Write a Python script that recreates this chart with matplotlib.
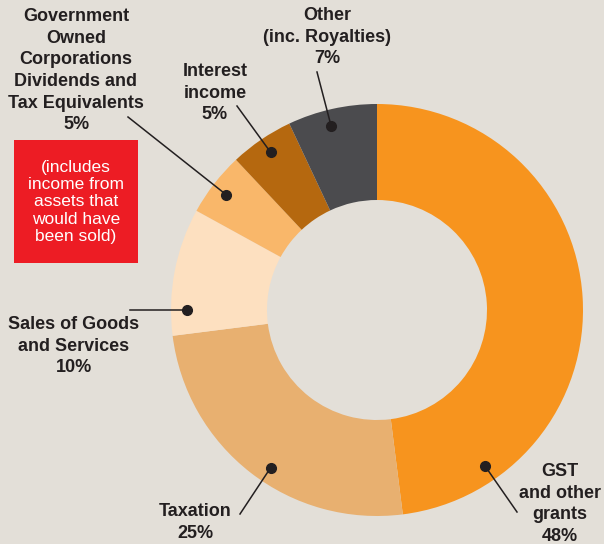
import matplotlib
matplotlib.use("Agg")
import matplotlib.pyplot as plt
import numpy as np

categories = ["GST\nand other\ngrants", "Taxation", "Sales of Goods\nand Services",
              "Government\nOwned\nCorporations\nDividends and\nTax Equivalents",
              "Interest\nincome", "Other\n(inc. Royalties)"]
values = [48, 25, 10, 5, 5, 7]
colors = ["#F7941E", "#E8B070", "#FDE0C0", "#F9B76A", "#B5680F", "#4B4B4E"]
note = "(includes\nincome from\nassets that\nwould have\nbeen sold)"

W, H = 604, 544
BG = "#E3DFD8"
TXT = "#231F20"
fam = ["Liberation Sans", "DejaVu Sans"]

fig = plt.figure(figsize=(W / 100, H / 100), dpi=100, facecolor=BG)
ax = fig.add_axes([0, 0, 1, 1])
ax.set_facecolor(BG)

cx, cy, R = 377, H - 310, 206
ax.pie(values, colors=colors, startangle=90, counterclock=False,
       center=(cx, cy), radius=R, wedgeprops=dict(width=96, linewidth=0))
ax.set_xlim(0, W)
ax.set_ylim(0, H)
ax.set_aspect("equal")
ax.axis("off")

# label layout: (text x, text top y in px, dot angle deg, leader end px)
layout = [
    (560, 463, -55.3, (517, 512)),
    (195, 503, 236.0, (240, 514)),
    (74, 316, 180.0, (130, 310)),
    (76, 8, 142.6, (128, 117)),
    (215, 63, 124.0, (237, 106)),
    (327, 7, 104.0, (317, 72)),
]
rdot = 190
for cat, v, (tx, ty, ang, end) in zip(categories, values, layout):
    a = np.deg2rad(ang)
    dx, dy = cx + rdot * np.cos(a), cy + rdot * np.sin(a)
    ax.plot([dx, end[0]], [dy, H - end[1]], color=TXT, lw=1.1, zorder=5)
    ax.plot(dx, dy, "o", color=TXT, ms=7, zorder=6)
    ax.text(tx, H - ty, f"{cat}\n{v}%", ha="center", va="top", fontsize=13,
            fontweight="bold", color=TXT, family=fam, linespacing=1.36)

ax.add_patch(plt.Rectangle((14, H - 263), 124, 123, color="#ED1C24", lw=0, zorder=4))
ax.text(76, H - 202, note, ha="center", va="center", fontsize=12.5, color="white",
        family=fam, linespacing=1.2, zorder=5)

fig.savefig("out.png", dpi=100, facecolor=BG)
